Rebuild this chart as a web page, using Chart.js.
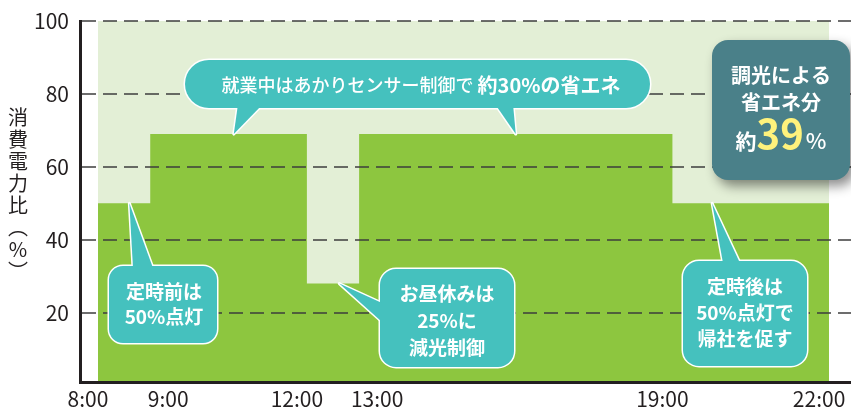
<!DOCTYPE html>
<html lang="ja">
<head>
<meta charset="utf-8">
<script src="https://cdn.jsdelivr.net/npm/chart.js@4.4.1/dist/chart.umd.min.js"></script>
<style>
  html, body { margin: 0; padding: 0; background: #fff; }
  #wrap { width: 851px; height: 410px; position: relative; }
</style>
</head>
<body>
<div id="wrap"><canvas id="powerChart"></canvas></div>
<script>
// データ
const hours = [8, 9, 12, 13, 19, 22];
const hourLabels = ['8:00', '9:00', '12:00', '13:00', '19:00', '22:00'];
const ratio = [50, 69, 28, 69, 50, 50];   // 各時刻から次の時刻までの消費電力比(%)
const fullPower = [100, 100];              // 調光なし (8:00〜22:00)
const yTicks = [20, 40, 60, 80, 100];
const yTitle = ['消', '費', '電', '力', '比', '︵', '%', '︶'];
// 9:00 と 13:00 のラベルは隣と重ならないよう右にずらす
const shiftedHours = [9, 13];

const FONT = "'Noto Sans CJK JP', 'Noto Sans', sans-serif";
const INK = '#231f20';
const TEAL = '#45c1be';

// 角丸四角
function rrect(ctx, x, y, w, h, r) {
    ctx.beginPath();
    ctx.moveTo(x + r, y);
    ctx.arcTo(x + w, y, x + w, y + h, r);
    ctx.arcTo(x + w, y + h, x, y + h, r);
    ctx.arcTo(x, y + h, x, y, r);
    ctx.arcTo(x, y, x + w, y, r);
    ctx.closePath();
}

// 吹き出し (白フチ付き)
function bubble(ctx, box, tails) {
    ctx.save();
    ctx.lineJoin = 'round';
    ctx.strokeStyle = '#fff';
    ctx.lineWidth = 3;
    rrect(ctx, box.x, box.y, box.w, box.h, box.r); ctx.stroke();
    tails.forEach(t => {
        ctx.beginPath(); ctx.moveTo(t[0][0], t[0][1]); ctx.lineTo(t[1][0], t[1][1]); ctx.lineTo(t[2][0], t[2][1]); ctx.closePath(); ctx.stroke();
    });
    ctx.fillStyle = TEAL;
    rrect(ctx, box.x, box.y, box.w, box.h, box.r); ctx.fill();
    tails.forEach(t => {
        ctx.beginPath(); ctx.moveTo(t[0][0], t[0][1]); ctx.lineTo(t[1][0], t[1][1]); ctx.lineTo(t[2][0], t[2][1]); ctx.closePath(); ctx.fill();
    });
    ctx.restore();
}

function lines(ctx, txt, cx, cy, gap, size) {
    ctx.save();
    ctx.fillStyle = '#fff';
    ctx.font = `bold ${size}px ${FONT}`;
    ctx.textAlign = 'center';
    ctx.textBaseline = 'middle';
    txt.forEach((t, i) => ctx.fillText(t, cx, cy + i * gap));
    ctx.restore();
}

const calloutPlugin = {
    id: 'callouts',
    afterDraw(chart) {
        const ctx = chart.ctx;
        const xs = chart.scales.x, ys = chart.scales.y;
        const px = (h, v) => [xs.getPixelForValue(h), ys.getPixelForValue(v)];

        // 縦書きの軸タイトル
        ctx.save();
        ctx.fillStyle = INK;
        ctx.font = `20px ${FONT}`;
        ctx.textAlign = 'center';
        ctx.textBaseline = 'middle';
        yTitle.forEach((c, i) => ctx.fillText(c, 18, 117 + i * 22));
        ctx.restore();

        // 上の吹き出し
        bubble(ctx, { x: 185, y: 60, w: 465, h: 48, r: 24 }, [
            [[238, 104], [263, 104], px(10.6, ratio[1])],
            [[495, 104], [513, 104], px(16, ratio[3])]
        ]);
        ctx.save();
        ctx.fillStyle = '#fff';
        ctx.textBaseline = 'middle';
        const t1 = '就業中はあかりセンサー制御で ', t2 = '約30%の省エネ';
        ctx.font = `500 18px ${FONT}`;
        const w1 = ctx.measureText(t1).width;
        ctx.font = `bold 20px ${FONT}`;
        const w2 = ctx.measureText(t2).width;
        let sx = 421 - (w1 + w2) / 2;
        ctx.font = `500 18px ${FONT}`;
        ctx.fillText(t1, sx, 85);
        ctx.font = `bold 20px ${FONT}`;
        ctx.fillText(t2, sx + w1, 85);
        ctx.restore();

        // 定時前
        bubble(ctx, { x: 109, y: 266, w: 108, h: 77, r: 14 }, [[[133, 268], [153, 268], px(8.6, ratio[0])]]);
        lines(ctx, ['定時前は', '50%点灯'], 164, 292, 25, 19);

        // お昼休み
        bubble(ctx, { x: 380, y: 269, w: 134, h: 98, r: 16 }, [[[382, 303], [382, 322], px(12.62, ratio[2])]]);
        lines(ctx, ['お昼休みは', '25%に', '減光制御'], 447, 294, 27, 19);

        // 定時後
        bubble(ctx, { x: 683, y: 261, w: 124, h: 105, r: 16 }, [[[723, 263], [740, 263], px(19.76, ratio[4])]]);
        lines(ctx, ['定時後は', '50%点灯で', '帰社を促す'], 745, 287, 26, 19);

        // 調光による省エネ分
        ctx.save();
        ctx.shadowColor = 'rgba(0,0,0,0.45)';
        ctx.shadowBlur = 12;
        ctx.shadowOffsetX = 5;
        ctx.shadowOffsetY = 6;
        ctx.fillStyle = '#4a8089';
        rrect(ctx, 712, 40, 138, 140, 16);
        ctx.fill();
        ctx.restore();
        lines(ctx, ['調光による', '省エネ分'], 781, 75, 27, 20);
        ctx.save();
        ctx.textBaseline = 'alphabetic';
        ctx.font = `bold 21px ${FONT}`;
        const wa = ctx.measureText('約').width;
        ctx.font = `bold 40px ${FONT}`;
        const wb = ctx.measureText('39').width;
        ctx.font = `500 22px ${FONT}`;
        const wc = ctx.measureText('%').width;
        let bx = 781 - (wa + wb + wc + 2) / 2;
        ctx.fillStyle = '#fff';
        ctx.font = `bold 21px ${FONT}`;
        ctx.fillText('約', bx, 149);
        ctx.fillStyle = '#fff27c';
        ctx.font = `bold 40px ${FONT}`;
        ctx.fillText('39', bx + wa, 149);
        ctx.fillStyle = '#fff';
        ctx.font = `500 22px ${FONT}`;
        ctx.fillText('%', bx + wa + wb + 2, 149);
        ctx.restore();
    }
};

const X_MIN = 7.655, X_MAX = 22.42, Y_MIN = 1;
const hourTick = v => hourLabels[hours.indexOf(v)];

const ctx = document.getElementById('powerChart');
new Chart(ctx, {
    type: 'line',
    data: {
        datasets: [
            {
                label: '消費電力比',
                data: hours.map((h, i) => ({ x: h, y: ratio[i] })),
                stepped: true,
                fill: 'origin',
                backgroundColor: '#8dc63f',
                borderColor: 'rgba(0,0,0,0)',
                borderWidth: 0,
                pointRadius: 0,
                order: 1
            },
            {
                label: '調光なし',
                data: [{ x: hours[0], y: fullPower[0] }, { x: hours[hours.length - 1], y: fullPower[1] }],
                fill: 'origin',
                backgroundColor: '#e3efd6',
                borderColor: 'rgba(0,0,0,0)',
                borderWidth: 0,
                pointRadius: 0,
                order: 2
            }
        ]
    },
    options: {
        responsive: true,
        maintainAspectRatio: false,
        animation: false,
        layout: { padding: { top: 21, right: 0, bottom: 0, left: 0 } },
        plugins: {
            legend: { display: false },
            tooltip: { enabled: false }
        },
        scales: {
            x: {
                type: 'linear',
                min: X_MIN,
                max: X_MAX,
                z: 1,
                border: { display: true, color: INK, width: 3, z: 1 },
                grid: { display: false, drawTicks: false },
                afterBuildTicks: s => { s.ticks = hours.filter(v => !shiftedHours.includes(v)).map(v => ({ value: v })); },
                afterFit: s => { s.height = 28; s.paddingLeft = 0; s.paddingRight = 0; },
                ticks: {
                    autoSkip: false,
                    maxRotation: 0,
                    padding: 4,
                    labelOffset: -10,
                    color: INK,
                    font: { family: FONT, size: 21 },
                    callback: hourTick
                }
            },
            // 9:00 / 13:00 用のラベル軸 (下端に重ねる)
            x2: {
                type: 'linear',
                position: { y: Y_MIN },
                min: X_MIN,
                max: X_MAX,
                z: 1,
                border: { display: false },
                grid: { display: false, drawTicks: false },
                afterBuildTicks: s => { s.ticks = shiftedHours.map(v => ({ value: v })); },
                afterFit: s => { s.paddingLeft = 0; s.paddingRight = 0; },
                ticks: {
                    autoSkip: false,
                    maxRotation: 0,
                    padding: 4,
                    labelOffset: 18,
                    color: INK,
                    font: { family: FONT, size: 21 },
                    callback: hourTick
                }
            },
            y: {
                min: Y_MIN,
                max: 100,
                z: 1,
                border: { display: true, color: INK, width: 3, dash: [14, 7], z: 1 },
                grid: { color: 'rgba(60,60,60,0.75)', lineWidth: 2, drawTicks: false, z: 1 },
                afterBuildTicks: s => { s.ticks = yTicks.map(v => ({ value: v })); },
                afterFit: s => { s.width = 80; s.paddingTop = 0; s.paddingBottom = 0; },
                ticks: {
                    padding: 11,
                    color: INK,
                    font: { family: FONT, size: 21 }
                }
            }
        }
    },
    plugins: [calloutPlugin]
});
</script>
</body>
</html>
